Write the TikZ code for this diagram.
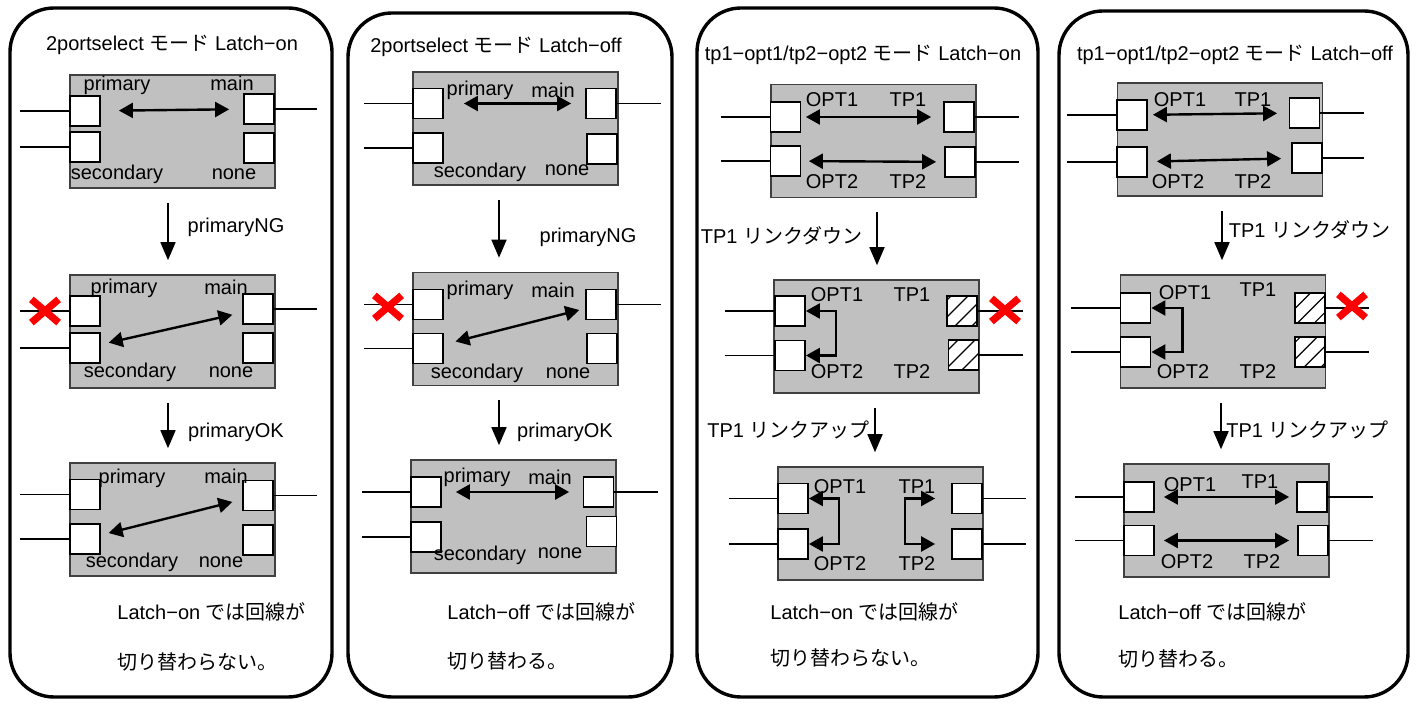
\documentclass[tikz,border=0pt]{standalone}
\usepackage{fontspec}
\setmainfont{Liberation Sans}
\newfontfamily\jp{Noto Sans CJK JP}
\usepackage{tikz}
\usetikzlibrary{shapes.misc, arrows.meta, patterns.meta}
\definecolor{boxgray}{RGB}{192,192,192}

\begin{document}
\begin{tikzpicture}[
    x=0.5pt, y=-0.5pt,
    font=\fontsize{10}{12}\selectfont,
    panel/.style={draw, line width=1.7pt, rounded corners=22pt},
    unit/.style={draw=black!75, line width=0.8pt, fill=boxgray,
                 minimum width=102.5pt, minimum height=56.5pt},
    port/.style={draw, line width=0.9pt, fill=white, inner sep=0pt,
                 minimum width=15pt, minimum height=15pt},
    deadport/.style={port, postaction={pattern={Lines[angle=45, distance=6pt, line width=0.6pt]}}},
    lbl/.style={inner sep=0pt},
    wire/.style={line width=0.75pt},
    link/.style={{Triangle[length=7pt,width=7.5pt]}-{Triangle[length=7pt,width=7.5pt]}, line width=1.2pt},
    flow/.style={-{Triangle[length=9pt,width=7.5pt]}, line width=0.85pt,
                 shorten <=7pt, shorten >=7pt},
    ng/.style={draw=red, cross out, line width=3.6pt, inner sep=0pt,
               minimum width=10pt, minimum height=8pt}
]
\useasboundingbox (0,0) rectangle (1418,704);

% Panel 1: 2portselect, Latch-on
\draw[panel] (10,8) rectangle (332,697);
\node (t1) at (172,45) {2portselect {\jp モード} Latch−on};

\node[unit] (a1) at (172.5,131.5) {};
\node[port] (a1l1) at (85,111) {};
\node[port] (a1l2) at (85,147) {};
\node[port] (a1r1) at (259,109) {};
\node[port] (a1r2) at (259,148) {};
\draw[wire] (a1l1.west) -- ++(-49,0);
\draw[wire] (a1l2.west) -- ++(-49,0);
\draw[wire] (a1r1.east) -- ++(42,0);
\node[lbl] (a1p) at (117,85) {primary};
\node[lbl] (a1m) at (232,83) {main};
\node[lbl] (a1s) at (117,174) {secondary};
\node[lbl] (a1n) at (234,174) {none};
\draw[link, shorten <=9pt, shorten >=7pt] (a1l1) -- (a1r1);

\node[unit] (a2) at (172.5,331.5) {};
\node[port] (a2l1) at (85,311) {};
\node[port] (a2l2) at (85,348) {};
\node[port] (a2r1) at (258,309) {};
\node[port] (a2r2) at (258,348) {};
\draw[wire] (a2l1.west) -- ++(-49,0);
\draw[wire] (a2l2.west) -- ++(-49,0);
\draw[wire] (a2r1.east) -- ++(43,0);
\node[ng] (x1) at (45,311) {};
\node[lbl] (a2p) at (124,288) {primary};
\node[lbl] (a2m) at (226,287) {main};
\node[lbl] (a2s) at (130,372) {secondary};
\node[lbl] (a2n) at (231,372) {none};
\draw[link, shorten <=5pt, shorten >=4pt] (a2r1) -- (a2l2);

\draw[flow] ([xshift=-2.25pt]a1.south) -- ([xshift=-2.25pt]a2.north);
\node[lbl] (e1) at (236,227) {primaryNG};

\node[unit] (a3) at (172.5,519.5) {};
\node[port] (a3l1) at (85,494.5) {};
\node[port] (a3l2) at (85,539) {};
\node[port] (a3r1) at (258,495.5) {};
\node[port] (a3r2) at (258,540) {};
\draw[wire] (a3l1.west) -- ++(-49,0);
\draw[wire] (a3l2.west) -- ++(-49,0);
\draw[wire] (a3r1.east) -- ++(43,0);
\node[lbl] (a3p) at (132,478) {primary};
\node[lbl] (a3m) at (226,476) {main};
\node[lbl] (a3s) at (132,562) {secondary};
\node[lbl] (a3n) at (221,562) {none};
\draw[link, shorten <=5pt, shorten >=4pt] (a3r1) -- (a3l2);

\draw[flow] ([xshift=-2.25pt]a2.south) -- ([xshift=-2.25pt]a3.north);
\node[lbl] (e2) at (236,432) {primaryOK};

\node[lbl, anchor=west] (n1a) at (117,612) {Latch−on {\jp では回線が}};
\node[lbl, anchor=west] (n1b) at (117,662) {\jp 切り替わらない。};

% Panel 2: 2portselect, Latch-off
\draw[panel] (348,13) rectangle (672,697);
\node (t2) at (496,47) {2portselect {\jp モード} Latch−off};

\node[unit] (b1) at (515.5,128.5) {};
\node[port] (b1l1) at (428,103.5) {};
\node[port] (b1l2) at (428,148) {};
\node[port] (b1r1) at (601,103.5) {};
\node[port] (b1r2) at (602,149) {};
\draw[wire] (b1l1.west) -- ++(-48,0);
\draw[wire] (b1l2.west) -- ++(-48,0);
\draw[wire] (b1r1.east) -- ++(44,0);
\node[lbl] (b1p) at (480,90) {primary};
\node[lbl] (b1m) at (553,90) {main};
\node[lbl] (b1s) at (480,172) {secondary};
\node[lbl] (b1n) at (567,170) {none};
\draw[link, shorten <=10pt, shorten >=7pt] (b1l1) -- (b1r1);

\node[unit] (b2) at (515.5,329) {};
\node[port] (b2l1) at (428,304.5) {};
\node[port] (b2l2) at (428,348.5) {};
\node[port] (b2r1) at (601,304.5) {};
\node[port] (b2r2) at (602,348.5) {};
\draw[wire] (b2l1.west) -- ++(-48,0);
\draw[wire] (b2l2.west) -- ++(-48,0);
\draw[wire] (b2r1.east) -- ++(44,0);
\node[ng] (x2) at (388,307) {};
\node[lbl] (b2p) at (480,290) {primary};
\node[lbl] (b2m) at (553,290) {main};
\node[lbl] (b2s) at (477,373) {secondary};
\node[lbl] (b2n) at (568,373) {none};
\draw[link, shorten <=3pt, shorten >=6pt] (b2r1) -- (b2l2);

\draw[flow] ([xshift=-8.25pt]b1.south) -- ([xshift=-8.25pt]b2.north);
\node[lbl] (f1) at (588,237) {primaryNG};

\node[unit] (b3) at (513.5,516.5) {};
\node[port] (b3l1) at (426,492) {};
\node[port] (b3l2) at (426,537) {};
\node[port] (b3r1) at (598.5,492) {};
\node[port] (b3r2) at (601.5,531.5) {};
\draw[wire] (b3l1.west) -- ++(-48,0);
\draw[wire] (b3l2.west) -- ++(-48,0);
\draw[wire] (b3r1.east) -- ++(43.5,0);
\node[lbl] (b3p) at (477,477) {primary};
\node[lbl] (b3m) at (550,477) {main};
\node[lbl] (b3s) at (480,555) {secondary};
\node[lbl] (b3n) at (560,553) {none};
\draw[link, shorten <=7pt, shorten >=6.75pt] (b3l1) -- (b3r1);

\draw[flow] ([xshift=-8.25pt]b2.south) -- ([xshift=-7.25pt]b3.north);
\node[lbl] (f2) at (565,432) {primaryOK};

\node[lbl, anchor=west] (n2a) at (447,612) {Latch−off {\jp では回線が}};
\node[lbl, anchor=west] (n2b) at (447,661) {\jp 切り替わる。};

% Panel 3: tp1-opt1/tp2-opt2, Latch-on
\draw[panel] (697,8) rectangle (1038,697);
\node (t3) at (863,55) {tp1−opt1/tp2−opt2 {\jp モード} Latch−on};

\node[unit] (c1) at (873.5,141) {};
\node[port] (c1l1) at (785.5,117) {};
\node[port] (c1l2) at (785.5,161) {};
\node[port] (c1r1) at (959,117) {};
\node[port] (c1r2) at (960,162) {};
\draw[wire] (c1l1.west) -- ++(-48.5,0);
\draw[wire] (c1l2.west) -- ++(-48.5,0);
\draw[wire] (c1r1.east) -- ++(44,0);
\draw[wire] (c1r2.east) -- ++(43,0);
\node[lbl] (c1o1) at (832,100) {OPT1};
\node[lbl] (c1t1) at (908,100) {TP1};
\node[lbl] (c1o2) at (832,182) {OPT2};
\node[lbl] (c1t2) at (908,182) {TP2};
\draw[link, shorten <=2.25pt, shorten >=6pt] (c1l1) -- (c1r1);
\draw[link, shorten <=3.75pt, shorten >=4pt] (c1l2) -- (c1r2);

\node[unit] (c2) at (876.5,336.5) {};
\node[port] (c2l1) at (790,311) {};
\node[port] (c2l2) at (790,355.5) {};
\node[deadport] (c2r1) at (962,311) {};
\node[deadport] (c2r2) at (963.5,355) {};
\draw[wire] (c2l1.west) -- ++(-49,0);
\draw[wire] (c2l2.west) -- ++(-49,0);
\draw[wire] (c2r1.east) -- ++(45,0);
\draw[wire] (c2r2.east) -- ++(43.5,0);
\node[ng] (x3) at (1005,310) {};
\node[lbl] (c2o1) at (837,295) {OPT1};
\node[lbl] (c2t1) at (912,295) {TP1};
\node[lbl] (c2o2) at (837,372) {OPT2};
\node[lbl] (c2t2) at (912,372) {TP2};
\draw[link] (c2l1.east) -- ++(30,0) |- (c2l2.east);

\draw[flow] ([xshift=1.75pt]c1.south) -- ([xshift=0.25pt]c2.north);
\node[lbl] (g1) at (781.5,236) {TP1 {\jp リンクダウン}};

\node[unit] (c3) at (880.5,523.5) {};
\node[port] (c3l1) at (793,498.5) {};
\node[port] (c3l2) at (793,544) {};
\node[port] (c3r1) at (967,498.5) {};
\node[port] (c3r2) at (967,544) {};
\draw[wire] (c3l1.west) -- ++(-48,0);
\draw[wire] (c3l2.west) -- ++(-48,0);
\draw[wire] (c3r1.east) -- ++(43,0);
\draw[wire] (c3r2.east) -- ++(43,0);
\node[lbl] (c3o1) at (840,487) {OPT1};
\node[lbl] (c3t1) at (917,487) {TP1};
\node[lbl] (c3o2) at (840,564) {OPT2};
\node[lbl] (c3t2) at (917,564) {TP2};
\draw[link] (c3l1.east) -- ++(30,0) |- (c3l2.east);
\draw[link, shorten <=8pt, shorten >=8pt] (c3r1.west) -- ++(-46,0) |- (c3r2.west);

\draw[flow] ([xshift=-0.75pt]c2.south) -- ([xshift=-2.75pt]c3.north);
\node[lbl] (g2) at (788.5,430) {TP1 {\jp リンクアップ}};

\node[lbl, anchor=west] (n3a) at (770,612) {Latch−on {\jp では回線が}};
\node[lbl, anchor=west] (n3b) at (770,658) {\jp 切り替わらない。};

% Panel 4: tp1-opt1/tp2-opt2, Latch-off
\draw[panel] (1059,11) rectangle (1408,697);
\node (t4) at (1235,55) {tp1−opt1/tp2−opt2 {\jp モード} Latch−off};

\node[unit] (d1) at (1220,139.5) {};
\node[port] (d1l1) at (1132,115) {};
\node[port] (d1l2) at (1132,162) {};
\node[port] (d1r1) at (1304.5,113) {};
\node[port] (d1r2) at (1307,158) {};
\draw[wire] (d1l1.west) -- ++(-49,0);
\draw[wire] (d1l2.west) -- ++(-49,0);
\draw[wire] (d1r1.east) -- ++(43.5,0);
\draw[wire] (d1r2.east) -- ++(41,0);
\node[lbl] (d1o1) at (1180,100) {OPT1};
\node[lbl] (d1t1) at (1253,100) {TP1};
\node[lbl] (d1o2) at (1178,182) {OPT2};
\node[lbl] (d1t2) at (1253,182) {TP2};
\draw[link, shorten <=2.5pt, shorten >=5.75pt] (d1l1) -- (d1r1);
\draw[link, shorten <=4.5pt, shorten >=5pt] (d1l2) -- (d1r2);

\node[unit] (d2) at (1223,331.5) {};
\node[port] (d2l1) at (1135.5,308) {};
\node[port] (d2l2) at (1135.5,352) {};
\node[deadport] (d2r1) at (1310,308) {};
\node[deadport] (d2r2) at (1310,352) {};
\draw[wire] (d2l1.west) -- ++(-48.5,0);
\draw[wire] (d2l2.west) -- ++(-48.5,0);
\draw[wire] (d2r1.east) -- ++(43,0);
\draw[wire] (d2r2.east) -- ++(43,0);
\node[ng] (x4) at (1352,306) {};
\node[lbl] (d2o1) at (1185,293) {OPT1};
\node[lbl] (d2t1) at (1258,290) {TP1};
\node[lbl] (d2o2) at (1183,372) {OPT2};
\node[lbl] (d2t2) at (1258,372) {TP2};
\draw[link] (d2l1.east) -- ++(31,0) |- (d2l2.east);

\draw[flow] ([xshift=1pt]d1.south) -- ([xshift=-0.5pt]d2.north);
\node[lbl] (h1) at (1309.5,230) {TP1 {\jp リンクダウン}};

\node[unit] (d3) at (1226.5,520.5) {};
\node[port] (d3l1) at (1139,497) {};
\node[port] (d3l2) at (1139,540.5) {};
\node[port] (d3r1) at (1312,497) {};
\node[port] (d3r2) at (1313,540.5) {};
\draw[wire] (d3l1.west) -- ++(-48,0);
\draw[wire] (d3l2.west) -- ++(-48,0);
\draw[wire] (d3r1.east) -- ++(45,0);
\draw[wire] (d3r2.east) -- ++(44,0);
\node[lbl] (d3o1) at (1190,485) {OPT1};
\node[lbl] (d3t1) at (1260,482) {TP1};
\node[lbl] (d3o2) at (1187,562) {OPT2};
\node[lbl] (d3t2) at (1262,562) {TP2};
\draw[link, shorten <=4.5pt, shorten >=3.5pt] (d3l1) -- (d3r1);
\draw[link, shorten <=4.5pt, shorten >=4pt] (d3l2) -- (d3r2);

\draw[flow] ([xshift=-1pt]d2.south) -- ([xshift=-2.75pt]d3.north);
\node[lbl] (h2) at (1307.5,430) {TP1 {\jp リンクアップ}};

\node[lbl, anchor=west] (n4a) at (1118,612) {Latch−off {\jp では回線が}};
\node[lbl, anchor=west] (n4b) at (1118,659) {\jp 切り替わる。};
\end{tikzpicture}
\end{document}
